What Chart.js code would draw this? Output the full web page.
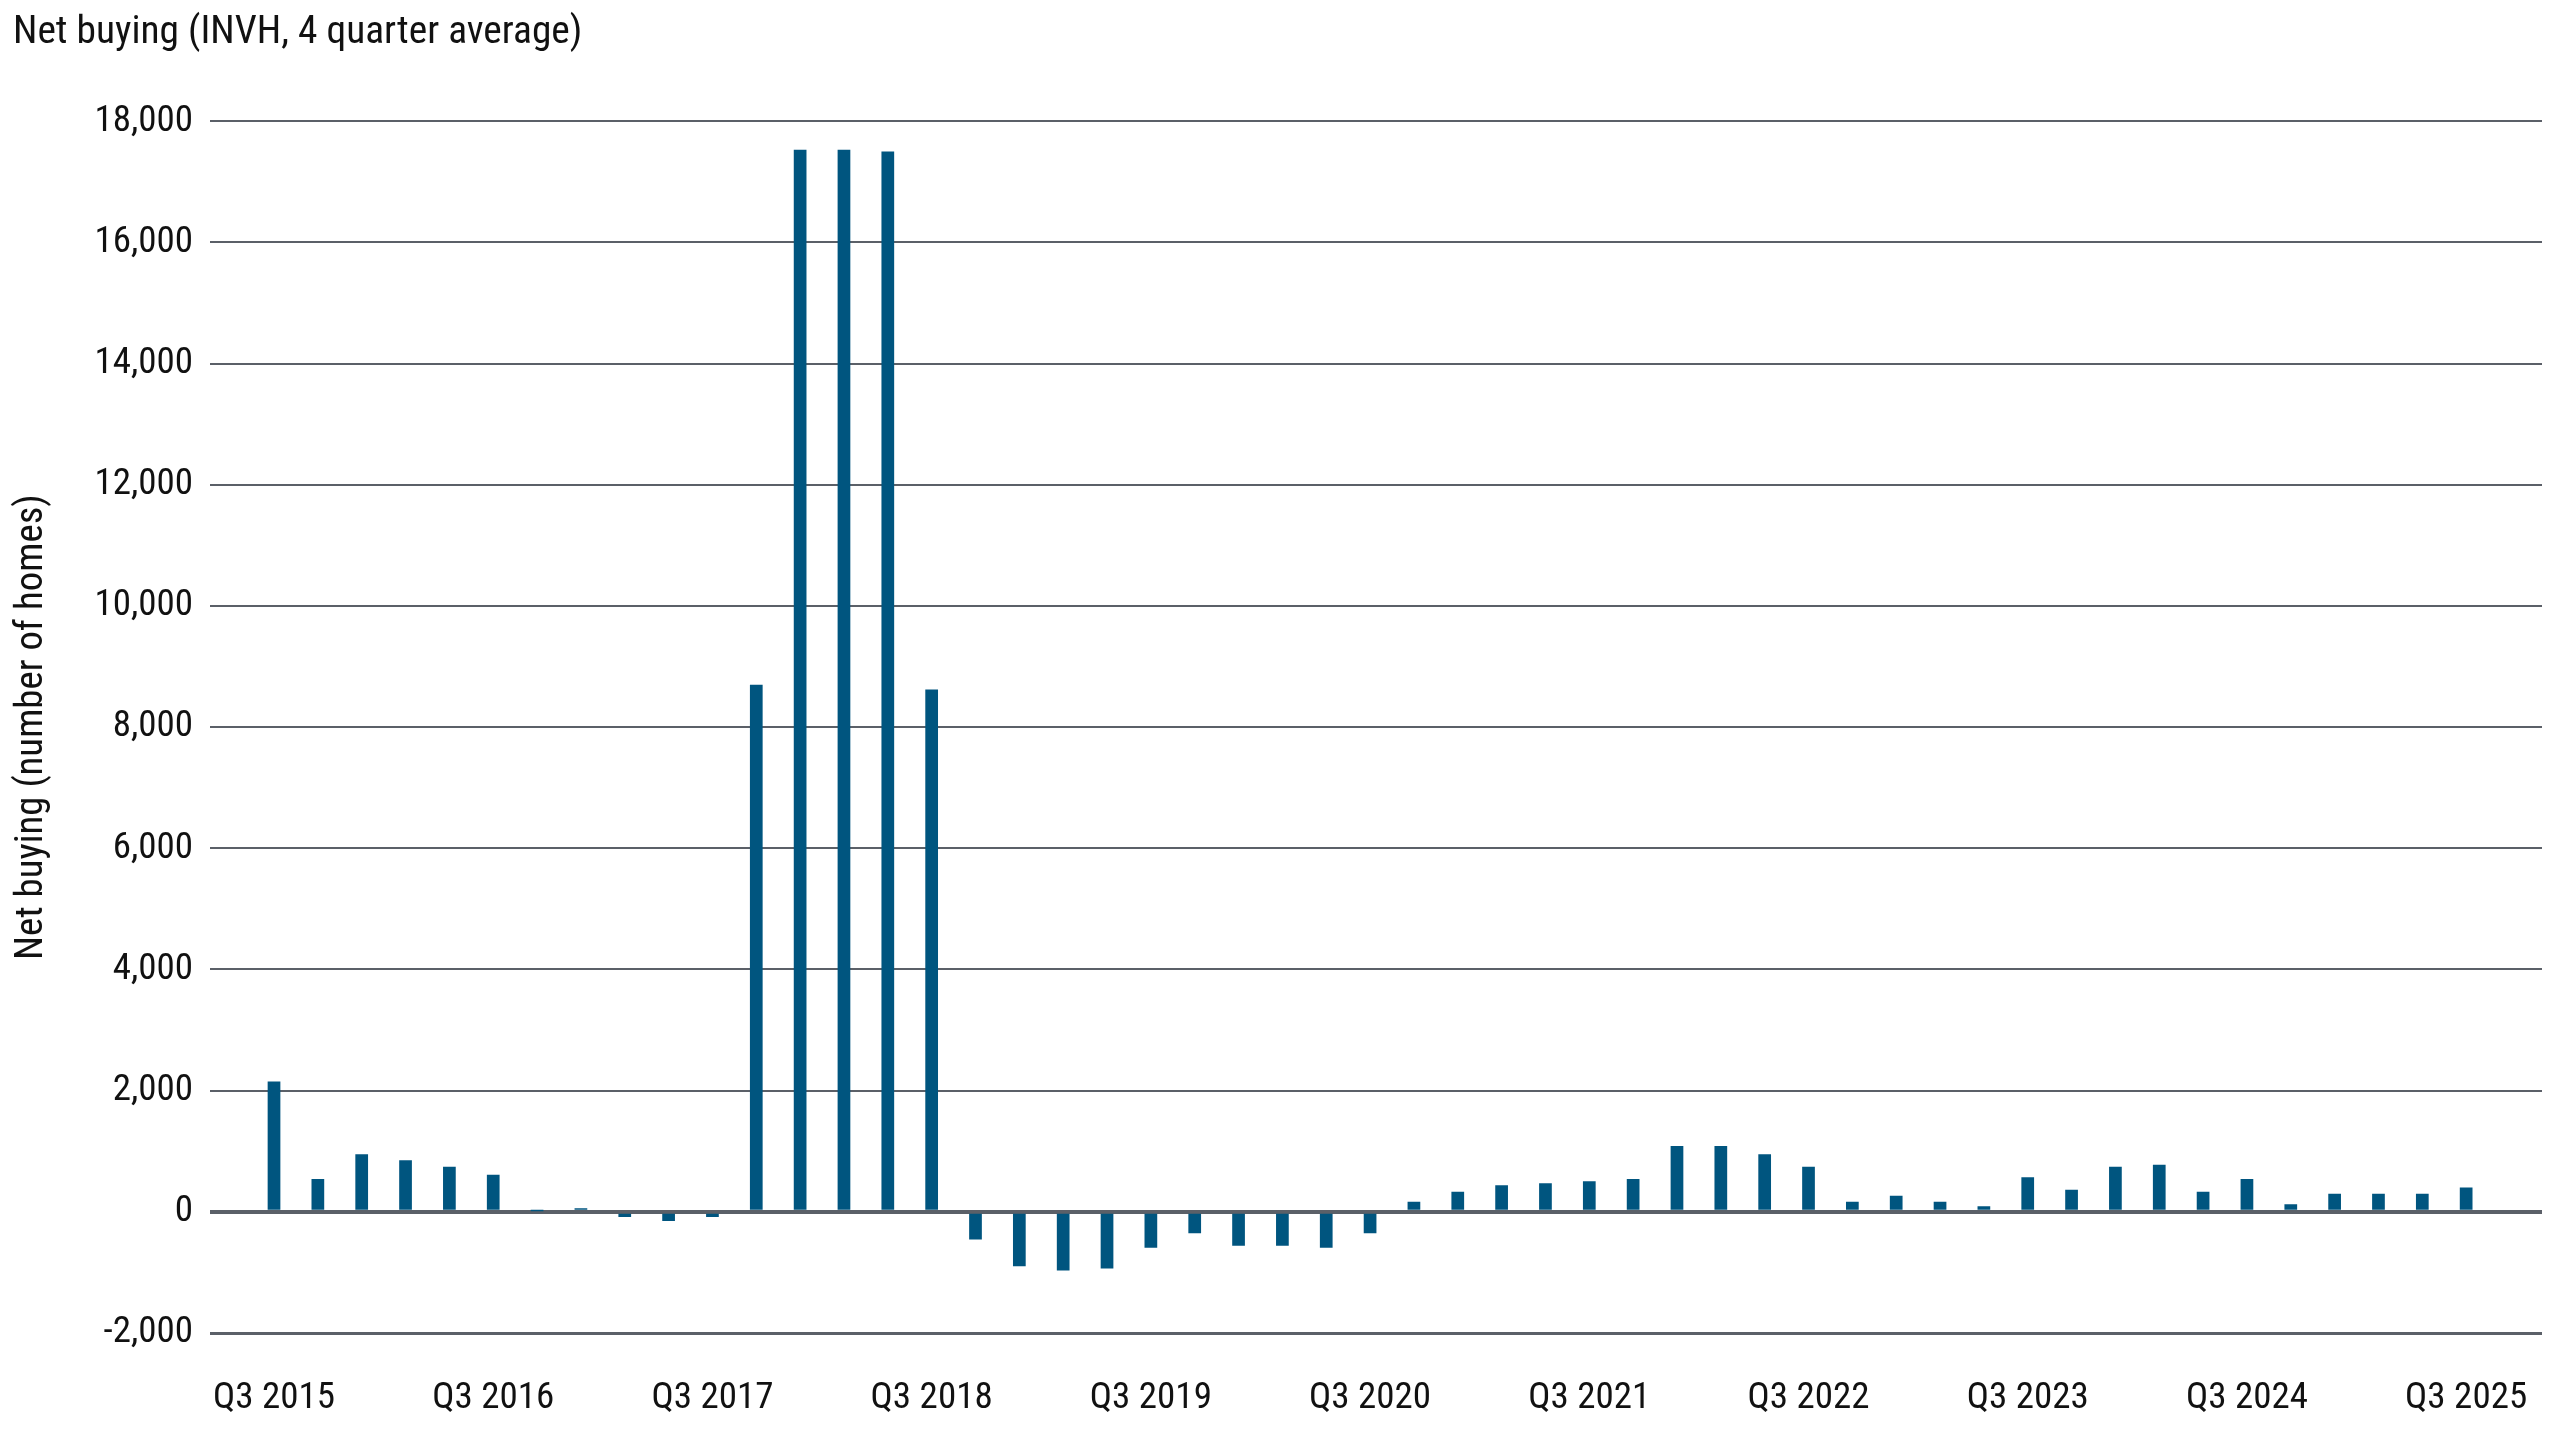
<!DOCTYPE html>
<html>
<head>
<meta charset="utf-8">
<script src="https://cdn.jsdelivr.net/npm/chart.js@4/dist/chart.umd.min.js"></script>
<style>
    html, body { margin: 0; padding: 0; background: #ffffff; }
    #wrap { width: 2560px; height: 1440px; }
</style>
</head>
<body>
<div id="wrap"><canvas id="netBuyingChart" width="2560" height="1440"></canvas></div>
<script>
// Chart data
const chartTitle = 'Net buying (INVH, 4 quarter average)';
const yAxisTitle = 'Net buying (number of homes)';

// x tick labels, shown every 5th bar
const tickLabels = ['Q3 2015', 'Q3 2016', 'Q3 2017', 'Q3 2018', 'Q3 2019', 'Q3 2020',
    'Q3 2021', 'Q3 2022', 'Q3 2023', 'Q3 2024', 'Q3 2025'];
const tickEvery = 5;

// net buying, number of homes
const netBuying = [
    2150, 540, 950, 850, 745, 610, 10, 60, -85, -150,
    -85, 8700, 17530, 17530, 17500, 8620, -455, -900, -970, -935,
    -593, -352, -560, -560, -593, -352, 165, 330, 440, 473,
    506, 540, 1088, 1088, 950, 742, 165, 264, 165, 94,
    572, 363, 742, 775, 330, 540, 126, 297, 297, 297,
    401
];

const yTicks = { min: -2000, max: 18000, step: 2000 };

const textColor = '#111111';
const gridColor = '#5b6068';
const barColor = '#00557f';

// Pick a narrow font that is actually installed (reference uses a condensed face)
function pickFont() {
    const candidates = [
        { family: "'Roboto Condensed'", weight: 'normal' },
        { family: "'Liberation Sans Narrow'", weight: 'normal' },
        { family: 'Roboto', weight: 'normal condensed' },
        { family: "'Open Sans'", weight: 'normal condensed' },
        { family: "'Noto Sans'", weight: 'normal condensed' },
        { family: "'DejaVu Sans'", weight: 'normal condensed' },
        { family: "'DejaVu Sans Condensed'", weight: 'normal' }
    ];
    const c = document.createElement('canvas').getContext('2d');
    c.font = '37px monospace';
    const mono = c.measureText(chartTitle).width;
    let best = null;
    for (const f of candidates) {
        c.font = `${f.weight} 37px ${f.family}, monospace`;
        const w = c.measureText(chartTitle).width;
        if (Math.abs(w - mono) < 1) continue;
        if (w < 600) return { ...f, width: w };
        if (!best || w < best.width) best = { ...f, width: w };
    }
    return best || { family: 'sans-serif', weight: 'normal', width: 620 };
}

const picked = pickFont();
// tick labels: match the reference width (title is about 567px wide)
const fontSize = Math.min(37, Math.round(37 * 567 / picked.width * 10) / 10);
const titleSize = Math.round(fontSize * 1.065 * 10) / 10;
const axisTitleSize = Math.round(fontSize * 1.048 * 10) / 10;

Chart.defaults.font.family = picked.family + ', sans-serif';
Chart.defaults.font.weight = picked.weight;
Chart.defaults.color = textColor;

// x positions are bar indexes; the plot extends a bit beyond the first and last bars
const points = netBuying.map((v, i) => ({ x: i, y: v }));
const tickPositions = tickLabels.map((_, i) => i * tickEvery);

const ctx = document.getElementById('netBuyingChart');

new Chart(ctx, {
    type: 'bar',
    data: {
        datasets: [{
            label: 'Net buying',
            data: points,
            backgroundColor: barColor,
            borderWidth: 0,
            barPercentage: 0.29,
            categoryPercentage: 1.0
        }]
    },
    options: {
        responsive: false,
        animation: false,
        devicePixelRatio: 1,
        layout: {
            padding: { left: 13, right: 18, top: 0, bottom: 0 }
        },
        plugins: {
            legend: { display: false },
            tooltip: { enabled: false },
            title: {
                display: true,
                text: chartTitle,
                align: 'start',
                color: textColor,
                font: { size: titleSize, weight: picked.weight },
                padding: { top: 10, bottom: 64 }
            }
        },
        scales: {
            x: {
                type: 'linear',
                offset: false,
                min: -1.46,
                max: 51.73,
                grid: { display: false, drawTicks: false },
                border: { display: false },
                afterBuildTicks: (scale) => {
                    scale.ticks = tickPositions.map(v => ({ value: v }));
                },
                afterFit: (scale) => {
                    scale.height = 107;
                    scale.paddingLeft = 0;
                    scale.paddingRight = 0;
                },
                ticks: {
                    autoSkip: false,
                    maxRotation: 0,
                    padding: 44,
                    color: textColor,
                    font: { size: fontSize, weight: picked.weight },
                    callback: (value) => {
                        const k = tickPositions.indexOf(value);
                        return k >= 0 ? tickLabels[k] : '';
                    }
                }
            },
            y: {
                min: yTicks.min,
                max: yTicks.max,
                afterFit: (scale) => { scale.width = 197; },
                border: { display: false },
                grid: {
                    drawTicks: false,
                    color: gridColor,
                    lineWidth: (c) => {
                        if (c.tick && c.tick.value === 0) return 4;
                        if (c.tick && c.tick.value === yTicks.min) return 3;
                        return 2;
                    }
                },
                ticks: {
                    stepSize: yTicks.step,
                    padding: 17,
                    color: textColor,
                    font: { size: fontSize, weight: picked.weight },
                    callback: (value) => value.toLocaleString('en-US')
                },
                title: {
                    display: true,
                    text: yAxisTitle,
                    color: textColor,
                    font: { size: axisTitleSize, weight: picked.weight },
                    padding: { top: -4, bottom: 0 }
                }
            }
        }
    }
});
</script>
</body>
</html>
